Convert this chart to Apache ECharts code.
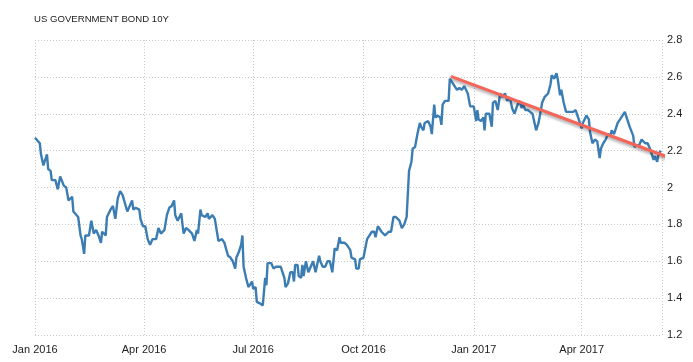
<!DOCTYPE html>
<html>
<head>
<meta charset="utf-8">
<script src="https://cdn.jsdelivr.net/npm/echarts@6/dist/echarts.min.js"></script>
<style>
html,body{margin:0;padding:0;background:#fff;}
#chart{width:693px;height:362px;}
</style>
</head>
<body>
<div id="chart"></div>
<script>
const titleText = 'US GOVERNMENT BOND 10Y';
const monthNames = ['Jan','Feb','Mar','Apr','May','Jun','Jul','Aug','Sep','Oct','Nov','Dec'];

const dates = [
'2016-01-01','2016-01-05','2016-01-06','2016-01-08','2016-01-11','2016-01-12','2016-01-14','2016-01-15','2016-01-18','2016-01-19',
'2016-01-20','2016-01-22','2016-01-25','2016-01-27','2016-01-29','2016-02-01','2016-02-02','2016-02-03','2016-02-06','2016-02-08',
'2016-02-09','2016-02-11','2016-02-12','2016-02-15','2016-02-17','2016-02-19','2016-02-21','2016-02-23','2016-02-25','2016-02-26',
'2016-02-29','2016-03-01','2016-03-02','2016-03-04','2016-03-06','2016-03-08','2016-03-10','2016-03-12','2016-03-14','2016-03-15',
'2016-03-18','2016-03-20','2016-03-22','2016-03-23','2016-03-25','2016-03-28','2016-03-29','2016-03-31','2016-04-02','2016-04-04',
'2016-04-06','2016-04-08','2016-04-11','2016-04-13','2016-04-15','2016-04-18','2016-04-20','2016-04-22','2016-04-24','2016-04-26',
'2016-04-27','2016-04-29','2016-05-02','2016-05-03','2016-05-04','2016-05-06','2016-05-08','2016-05-11','2016-05-13','2016-05-15',
'2016-05-16','2016-05-18','2016-05-19','2016-05-22','2016-05-24','2016-05-25','2016-05-28','2016-05-30','2016-05-31','2016-06-02',
'2016-06-05','2016-06-07','2016-06-10','2016-06-12','2016-06-14','2016-06-16','2016-06-17','2016-06-19','2016-06-21','2016-06-22',
'2016-06-23','2016-06-25','2016-06-27','2016-06-28','2016-06-30','2016-07-01','2016-07-03','2016-07-04','2016-07-07','2016-07-09',
'2016-07-11','2016-07-12','2016-07-13','2016-07-16','2016-07-18','2016-07-20','2016-07-22','2016-07-24','2016-07-25','2016-07-27',
'2016-07-28','2016-07-30','2016-08-01','2016-08-03','2016-08-04','2016-08-05','2016-08-07','2016-08-08','2016-08-10','2016-08-11',
'2016-08-12','2016-08-14','2016-08-16','2016-08-18','2016-08-20','2016-08-22','2016-08-23','2016-08-25','2016-08-26','2016-08-28',
'2016-08-30','2016-09-01','2016-09-03','2016-09-05','2016-09-07','2016-09-09','2016-09-11','2016-09-12','2016-09-15','2016-09-17',
'2016-09-20','2016-09-21','2016-09-24','2016-09-25','2016-09-27','2016-09-28','2016-10-01','2016-10-02','2016-10-04','2016-10-06',
'2016-10-08','2016-10-10','2016-10-11','2016-10-13','2016-10-16','2016-10-19','2016-10-22','2016-10-24','2016-10-26','2016-10-28',
'2016-10-31','2016-11-02','2016-11-04','2016-11-06','2016-11-08','2016-11-10','2016-11-11','2016-11-13','2016-11-14','2016-11-15',
'2016-11-17','2016-11-18','2016-11-20','2016-11-21','2016-11-24','2016-11-26','2016-11-27','2016-11-29','2016-11-30','2016-12-02',
'2016-12-04','2016-12-05','2016-12-06','2016-12-08','2016-12-11','2016-12-12','2016-12-14','2016-12-16','2016-12-18','2016-12-20',
'2016-12-22','2016-12-24','2016-12-25','2016-12-27','2016-12-29','2017-01-01','2017-01-03','2017-01-04','2017-01-05','2017-01-07',
'2017-01-09','2017-01-10','2017-01-11','2017-01-14','2017-01-16','2017-01-17','2017-01-19','2017-01-21','2017-01-23','2017-01-25',
'2017-01-27','2017-01-29','2017-01-31','2017-02-02','2017-02-04','2017-02-06','2017-02-08','2017-02-10','2017-02-11','2017-02-13',
'2017-02-15','2017-02-17','2017-02-19','2017-02-20','2017-02-22','2017-02-24','2017-02-26','2017-02-27','2017-03-01','2017-03-04',
'2017-03-06','2017-03-07','2017-03-09','2017-03-11','2017-03-12','2017-03-14','2017-03-15','2017-03-17','2017-03-19','2017-03-20',
'2017-03-22','2017-03-23','2017-03-25','2017-03-26','2017-03-27','2017-03-29','2017-03-30','2017-04-01','2017-04-02','2017-04-05',
'2017-04-07','2017-04-08','2017-04-10','2017-04-12','2017-04-14','2017-04-16','2017-04-17','2017-04-19','2017-04-21','2017-04-23',
'2017-04-25','2017-04-26','2017-04-28','2017-05-01','2017-05-02','2017-05-03','2017-05-05','2017-05-07','2017-05-09','2017-05-11',
'2017-05-12','2017-05-14','2017-05-15','2017-05-17','2017-05-19','2017-05-21','2017-05-22','2017-05-24','2017-05-26','2017-05-28',
'2017-05-29','2017-05-31','2017-06-01','2017-06-03','2017-06-04','2017-06-06'
];

const yields = [
2.27,2.24,2.18,2.12,2.18,2.10,2.09,2.04,2.04,2.05,
1.99,2.06,2.01,2.00,1.93,1.95,1.87,1.88,1.84,1.74,
1.72,1.64,1.74,1.74,1.82,1.75,1.77,1.74,1.70,1.76,
1.74,1.84,1.83,1.88,1.90,1.83,1.94,1.98,1.96,1.95,
1.87,1.90,1.93,1.88,1.89,1.88,1.83,1.79,1.79,1.72,
1.69,1.72,1.72,1.78,1.75,1.77,1.85,1.89,1.90,1.93,
1.85,1.82,1.86,1.80,1.75,1.78,1.77,1.75,1.71,1.77,
1.75,1.88,1.85,1.84,1.86,1.83,1.85,1.83,1.84,1.71,
1.72,1.70,1.63,1.62,1.60,1.56,1.62,1.65,1.69,1.74,
1.57,1.51,1.46,1.47,1.49,1.45,1.46,1.38,1.37,1.36,
1.51,1.47,1.59,1.59,1.56,1.57,1.57,1.57,1.56,1.51,
1.46,1.48,1.54,1.54,1.49,1.58,1.58,1.52,1.51,1.58,
1.52,1.60,1.54,1.57,1.60,1.54,1.57,1.63,1.60,1.57,
1.57,1.60,1.60,1.54,1.67,1.66,1.73,1.70,1.70,1.69,
1.66,1.62,1.61,1.56,1.56,1.61,1.62,1.62,1.72,1.74,
1.76,1.76,1.73,1.79,1.76,1.74,1.76,1.76,1.84,1.84,
1.82,1.78,1.80,1.84,2.09,2.14,2.21,2.22,2.21,2.29,
2.35,2.33,2.31,2.35,2.36,2.33,2.29,2.45,2.38,2.39,
2.38,2.34,2.45,2.47,2.47,2.59,2.57,2.55,2.53,2.54,
2.53,2.55,2.56,2.51,2.44,2.44,2.36,2.42,2.37,2.36,
2.38,2.31,2.40,2.40,2.33,2.46,2.47,2.42,2.51,2.49,
2.51,2.47,2.49,2.43,2.40,2.44,2.47,2.43,2.45,2.42,
2.42,2.41,2.40,2.37,2.31,2.35,2.42,2.46,2.49,2.51,
2.56,2.61,2.59,2.62,2.59,2.50,2.53,2.46,2.41,2.42,
2.41,2.40,2.41,2.40,2.42,2.38,2.37,2.32,2.35,2.39,
2.37,2.30,2.24,2.26,2.25,2.16,2.21,2.24,2.26,2.29,
2.28,2.31,2.29,2.35,2.35,2.37,2.39,2.41,2.37,2.33,
2.34,2.28,2.22,2.23,2.23,2.26,2.25,2.24,2.24,2.21,
2.20,2.15,2.17,2.14,2.18,2.20
];

const trendDates = ['2016-12-14','2017-06-10'];
const trendValues = [2.60, 2.17];

const axisStart = '2016-01-01';
const axisEnd = '2017-06-07';
const yMin = 1.2, yMax = 2.8, yStep = 0.2;

const chart = echarts.init(document.getElementById('chart'), null, {renderer:'canvas'});
const font = '"Liberation Sans", Arial, sans-serif';
chart.setOption({
  animation: false,
  backgroundColor: '#ffffff',
  title: {
    text: titleText,
    left: 29, top: 9,
    textStyle: {fontFamily: font, fontSize: 9.6, fontWeight: 'normal', color: '#222'}
  },
  grid: {left: 35, right: 31, top: 40, bottom: 27, containLabel: false},
  xAxis: {
    type: 'time',
    min: axisStart, max: axisEnd,
    splitNumber: 5,
    axisLine: {show: false},
    axisTick: {show: false},
    splitLine: {show: true, lineStyle: {type: [1, 2], color: '#c8c8c8', width: 1}},
    axisLabel: {
      fontFamily: font, fontSize: 11, color: '#222', margin: 9,
      hideOverlap: false,
      formatter: function (v) {
        const d = new Date(v);
        return monthNames[d.getMonth()] + ' ' + d.getFullYear();
      }
    }
  },
  yAxis: {
    type: 'value',
    position: 'right',
    min: yMin, max: yMax, interval: yStep,
    axisLine: {show: false},
    axisTick: {show: false},
    splitLine: {show: true, lineStyle: {type: [1, 2], color: '#c8c8c8', width: 1}},
    axisLabel: {
      fontFamily: font, fontSize: 11, color: '#222', margin: 5,
      formatter: function (v) { return String(Math.round(v * 10) / 10); }
    }
  },
  series: [
    {
      type: 'line',
      data: dates.map((d, i) => [d, yields[i]]),
      showSymbol: false,
      lineStyle: {color: '#3b7db3', width: 2.4},
      itemStyle: {color: '#3b7db3'},
      z: 2
    },
    {
      type: 'line',
      data: trendDates.map((d, i) => [d, trendValues[i]]),
      showSymbol: false,
      clip: false,
      lineStyle: {color: '#f4665a', width: 3.2, cap: 'round',
        shadowColor: 'rgba(0,0,0,0.35)', shadowBlur: 3, shadowOffsetY: 2},
      z: 3
    }
  ]
});
</script>
</body>
</html>
